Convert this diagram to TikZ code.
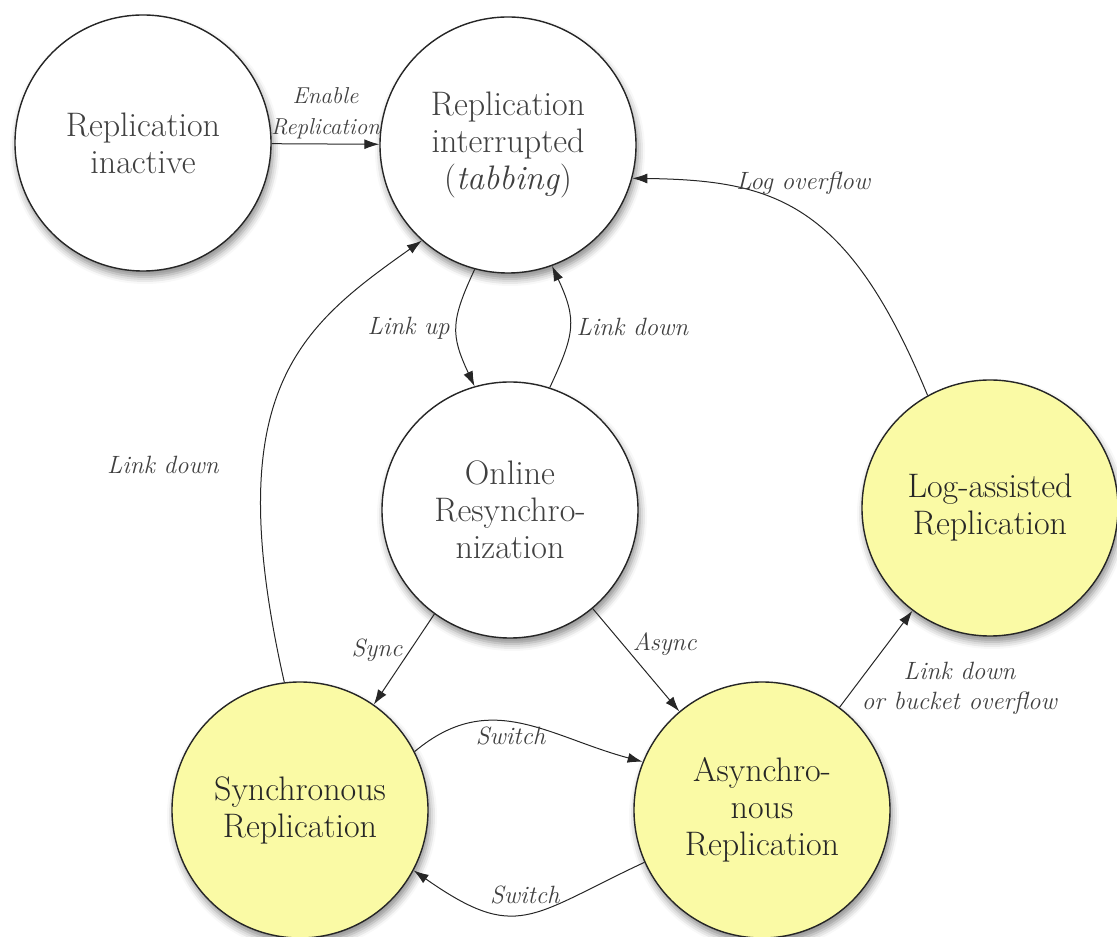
\documentclass[tikz,border=0pt]{standalone}
\usetikzlibrary{arrows.meta,shadows.blur}

\definecolor{stateyellow}{RGB}{250,250,165}
\newcommand{\stfont}{\fontsize{34}{37}\selectfont}
\newcommand{\trfont}{\fontsize{25}{30}\selectfont\itshape}

\begin{document}
\begin{tikzpicture}[
  x=1pt, y=1pt,
  % state/.style={draw,circle,minimum size=256pt,drop shadow},
  state/.style={draw=black!85,circle,line width=1.4pt,minimum size=256pt,inner sep=0pt,
    align=center,font=\stfont,text=black!75,fill=white,
    blur shadow={shadow xshift=2pt,shadow yshift=-6pt,shadow blur radius=7pt,shadow opacity=45}},
  live/.style={state,fill=stateyellow,text=black!85},
  trans/.style={-{Latex[length=15pt,width=10pt]},line width=1pt,draw=black!85},
  lbl/.style={font=\trfont,text=black!75,align=center},
  ]
  \useasboundingbox (0,0) rectangle (1117,937);

  \node[state] (inactive)    at (143,794) {Replication\\inactive};
  \node[state] (interrupted) at (508,792) {Replication\\interrupted\\(\textit{tabbing})};
  \node[state] (online)      at (510,427) {Online\\Resynchro-\\nization};
  \node[live]  (sync)        at (300,127) {Synchronous\\Replication};
  \node[live]  (async)       at (762,127) {Asynchro-\\nous\\Replication};
  \node[live]  (logassist)   at (990,429) {Log-assisted\\Replication};

  \draw[trans] (inactive) -- node[lbl,above=1pt,font=\fontsize{23}{31}\selectfont\itshape]
    {Enable\\Replication} (interrupted);
  \draw[trans] (interrupted.255) to[out=245,in=115,looseness=1.25]
    node[lbl,left=3pt] {Link up} (online.106);
  \draw[trans] (online.72) to[out=65,in=-65,looseness=1.25]
    node[lbl,right=3pt] {Link down} (interrupted.290);
  \draw[trans] (sync.97) .. controls +(-66,291) and +(-123,-87) .. (interrupted.228)
    node[lbl,pos=.32,left=40pt] {Link down};
  \draw[trans] (online.234) -- node[lbl,pos=.4,left=4pt] {Sync} (sync.55);
  \draw[trans] (online.310) -- node[lbl,pos=.35,right=6pt] {Async} (async.130);
  \draw[trans] (sync.27) to[out=40,in=165,looseness=1.1]
    node[lbl,pos=.45,below=1pt] {Switch} (async.158);
  \draw[trans] (async.204) to[out=205,in=-35,looseness=1.4]
    node[lbl,pos=.5,above=6pt] {Switch} (sync.332);
  \draw[trans] (async) -- node[lbl,pos=.2,right=4pt] {Link down\\or bucket overflow} (logassist);
  \draw[trans] (logassist.119) .. controls +(-80,194) and +(142,-2) .. (interrupted.345)
    node[lbl,pos=.5,above=16pt] {Log overflow};
\end{tikzpicture}
\end{document}
